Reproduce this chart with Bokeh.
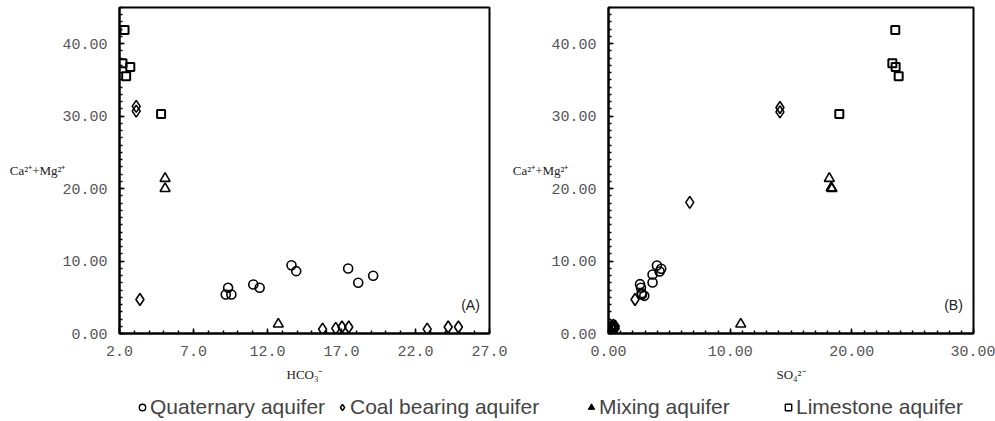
from bokeh.plotting import figure
from bokeh.models import FixedTicker, Label, Legend, LegendItem, Range1d, NumeralTickFormatter
from bokeh.layouts import column, row
from bokeh.embed import file_html
from bokeh.resources import INLINE

# ---------------- data ----------------
# Panel A : HCO3- (x) vs Ca2+ + Mg2+ (y)
a_quat_x = [9.34, 9.18, 9.56, 11.04, 11.47, 13.62, 13.94, 17.45, 18.13, 19.14]
a_quat_y = [6.31, 5.39, 5.39, 6.77, 6.31, 9.43, 8.61, 8.98, 7.0, 7.97]
a_coal_x = [3.13, 3.13, 3.38, 15.72, 16.61, 17.03, 17.49, 22.79, 24.21, 24.9]
a_coal_y = [31.35, 30.7, 4.7, 0.6, 0.7, 0.9, 0.9, 0.6, 0.9, 0.9]
a_mix_x = [5.08, 5.08, 12.73]
a_mix_y = [21.4, 20.0, 1.3]
a_lime_x = [2.34, 2.2, 2.73, 2.45, 4.81]
a_lime_y = [41.9, 37.3, 36.8, 35.5, 30.3]

# Panel B : SO4 2- (x) vs Ca2+ + Mg2+ (y)
b_quat_x = [2.59, 2.67, 2.72, 2.94, 3.62, 3.62, 3.98, 4.2, 4.33, 2.75]
b_quat_y = [6.81, 6.31, 5.57, 5.2, 7.04, 8.15, 9.39, 8.56, 8.93, 5.4]
b_coal_x = [14.09, 14.09, 6.68, 2.18, 0.25, 0.4, 0.55, 0.4, 0.25, 0.55, 0.4]
b_coal_y = [31.2, 30.6, 18.1, 4.7, 0.7, 0.5, 0.7, 0.85, 1.0, 1.0, 1.15]
b_mix_x = [18.15, 18.37, 18.3, 10.87]
b_mix_y = [21.4, 20.0, 20.1, 1.3]
b_lime_x = [23.57, 23.33, 23.6, 23.85, 18.97]
b_lime_y = [41.9, 37.3, 36.8, 35.5, 30.3]

# axes
a_x_ticks = [2, 7, 12, 17, 22, 27]
a_x_minor = list(range(2, 28))
b_x_ticks = [0, 10, 20, 30]
b_x_minor = list(range(0, 31))
y_ticks = [0, 10, 20, 30, 40]
y_minor = list(range(0, 46))

series_labels = ["Quaternary aquifer", "Coal bearing aquifer", "Mixing aquifer", "Limestone aquifer"]
y_title = "Ca²⁺+Mg²⁺"
a_x_title = "HCO₃⁻"
b_x_title = "SO₄²⁻"

TICK_FONT = "Liberation Mono"
SERIF = "Liberation Serif"


def style_axis(ax, fmt):
    ax.axis_line_width = 2
    ax.axis_line_color = "black"
    ax.major_tick_in = 5
    ax.major_tick_out = 0
    ax.minor_tick_in = 3
    ax.minor_tick_out = 0
    ax.major_tick_line_width = 1.5
    ax.minor_tick_line_width = 1.5
    ax.major_label_text_font = TICK_FONT
    ax.major_label_text_font_size = "15px"
    ax.major_label_text_color = "#555555"
    ax.major_label_standoff = 12
    ax.formatter = NumeralTickFormatter(format=fmt)
    ax.axis_label_text_font = SERIF
    ax.axis_label_text_font_size = "13px"
    ax.axis_label_text_font_style = "normal"
    ax.axis_label_text_color = "#222222"
    ax.axis_label_standoff = 8


def panel(width, left, right, ylab_standoff, xr, xt, xm, xfmt, xtitle, tag, data):
    p = figure(width=width, height=391, x_range=Range1d(*xr), y_range=Range1d(0, 45),
               output_backend="svg", toolbar_location=None,
               min_border_left=left, min_border_right=right,
               min_border_top=7, min_border_bottom=58)
    p.xgrid.visible = False
    p.ygrid.visible = False
    p.outline_line_color = "black"
    p.outline_line_width = 2
    p.outline_line_alpha = 1
    p.xaxis.ticker = FixedTicker(ticks=xt, minor_ticks=xm)
    p.yaxis.ticker = FixedTicker(ticks=y_ticks, minor_ticks=y_minor)
    style_axis(p.xaxis[0], xfmt)
    style_axis(p.yaxis[0], "0.00")
    p.xaxis.axis_label = xtitle

    ya = p.yaxis[0]
    ya.axis_label = y_title
    ya.axis_label_orientation = "horizontal"
    ya.axis_label_standoff = ylab_standoff

    qx, qy, cx, cy, mx, my, lx, ly = data
    p.scatter(qx, qy, marker="circle", size=9, fill_color=None, line_color="black", line_width=1.6)
    p.scatter(cx, cy, marker="diamond", size=12, fill_color=None, line_color="black", line_width=1.6)
    p.scatter(mx, my, marker="triangle", size=10, fill_color=None, line_color="black", line_width=1.6)
    p.scatter(lx, ly, marker="square", size=8, fill_color=None, line_color="black", line_width=2)

    p.add_layout(Label(x=351 if tag == "(A)" else 345, y=29, x_units="screen", y_units="screen",
                       text=tag, text_font="Liberation Sans", text_font_size="14px",
                       text_baseline="middle", text_align="center", text_color="#222222"))
    return p


pA = panel(509, 119, 20, -6, (2, 27), a_x_ticks, a_x_minor, "0.0", a_x_title, "(A)",
           (a_quat_x, a_quat_y, a_coal_x, a_coal_y, a_mix_x, a_mix_y, a_lime_x, a_lime_y))
pB = panel(486, 97, 22, -20, (0, 30), b_x_ticks, b_x_minor, "0.00", b_x_title, "(B)",
           (b_quat_x, b_quat_y, b_coal_x, b_coal_y, b_mix_x, b_mix_y, b_lime_x, b_lime_y))

# legend strip
leg = figure(width=995, height=30, output_backend="svg", toolbar_location=None,
             x_axis_type=None, y_axis_type=None, min_border=0, outline_line_color=None,
             x_range=Range1d(0, 1), y_range=Range1d(0, 1))
leg.xgrid.visible = False
leg.ygrid.visible = False
off = [-5.0]
r1 = leg.scatter(off, off, marker="circle", size=10, fill_color=None, line_color="black", line_width=1.4)
r2 = leg.scatter(off, off, marker="diamond", size=15, fill_color=None, line_color="black", line_width=1.4)
r3 = leg.scatter(off, off, marker="triangle", size=9, fill_color="black", line_color="black", line_width=1)
r4 = leg.scatter(off, off, marker="square", size=9, fill_color=None, line_color="black", line_width=1.4)
leg_x = [134, 334, 583, 780]
for r, lbl, lx in zip([r1, r2, r3, r4], series_labels, leg_x):
    lg = Legend(items=[LegendItem(label=lbl, renderers=[r])], location=(lx, 2),
                orientation="horizontal", border_line_color=None, background_fill_alpha=0,
                padding=0, margin=0, glyph_width=16, glyph_height=20, label_standoff=0,
                label_text_font="Liberation Sans",
                label_text_font_size="21px",
                label_height=20, label_text_baseline="middle")
    leg.add_layout(lg)

layout = column(row(pA, pB), leg)
open("out.html", "w").write(file_html(layout, INLINE))
